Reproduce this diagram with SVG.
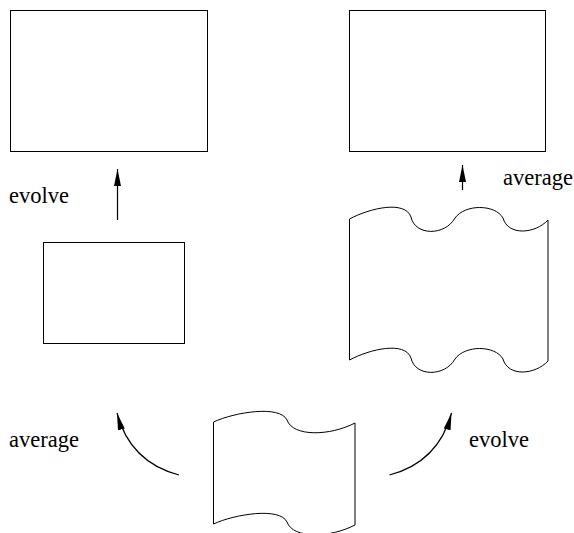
<svg xmlns="http://www.w3.org/2000/svg" width="574" height="533" viewBox="0 0 574 533">
<style>
.n{fill:none;stroke:#000;stroke-width:1}
.c{fill:none;stroke:#000;stroke-width:1.2}
text{font-family:'Liberation Serif','Times New Roman',serif;font-size:22.5px;fill:#000}
</style>
<defs>
<marker id="ah" markerUnits="userSpaceOnUse" markerWidth="18" markerHeight="8" refX="17" refY="3.5" orient="auto">
<path d="M0,0 L17,3.5 L0,7 Z" fill="#000"/>
</marker>
</defs>
<rect width="574" height="533" fill="#fff"/>
<g id="box-top-left"><rect class="n" x="10.5" y="10.5" width="197" height="141"/></g>
<g id="box-top-right"><rect class="n" x="349.5" y="10.5" width="196" height="141"/></g>
<g id="box-middle-left"><rect class="n" x="43.5" y="242.5" width="141" height="101"/></g>
<g id="tape-middle-right">
<path class="n" d="M349.5,219 C370,208 405,200 411,217 C415,236 445,236 455,218 C465,204 495,204 503,218 C508,236 535,234 548,220 L548,361 C535,375 508,377 503,359 C495,345 465,345 455,359 C445,377 415,377 411,358 C405,341 370,349 349.5,360 Z"/>
</g>
<g id="tape-bottom">
<path class="n" d="M213.5,422 C235,412 280,405 287,420 C293,437 330,436 355,423 L355,525 C330,538 293,539 287,522 C280,507 235,514 213.5,524 Z"/>
</g>
<g id="connectors">
<path class="c" d="M117.5,220 L117.5,169" marker-end="url(#ah)"/>
<path class="c" d="M462.5,190 L462.5,165" marker-end="url(#ah)"/>
<path class="c" d="M179,475 Q130,462 117,413" marker-end="url(#ah)"/>
<path class="c" d="M389.5,475 Q438.5,462 451.5,413" marker-end="url(#ah)"/>
</g>
<g id="labels">
<text x="9" y="203" font-family="Liberation Serif, serif">evolve</text>
<text x="503" y="185" font-family="Liberation Serif, serif">average</text>
<text x="9" y="447" font-family="Liberation Serif, serif">average</text>
<text x="469" y="447" font-family="Liberation Serif, serif">evolve</text>
</g>
</svg>
